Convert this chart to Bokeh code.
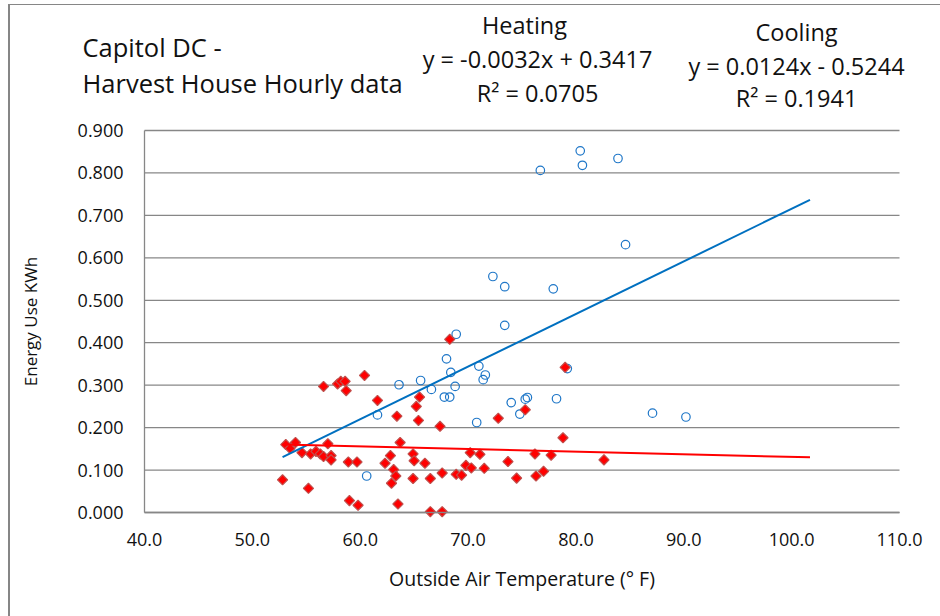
import numpy as np
from bokeh.plotting import figure
from bokeh.models import Range1d, FixedTicker, NumeralTickFormatter, Label
from bokeh.embed import file_html
from bokeh.resources import INLINE

# ---- data ----
heat_temp = [52.8, 53.1, 53.5, 54.0, 54.6, 55.2, 55.4, 55.9, 56.3, 56.6, 56.6, 57.0, 57.3, 57.3,
             57.9, 58.2, 58.6, 58.7, 58.9, 59.0, 59.7, 59.8, 60.4, 61.6, 62.3, 62.8, 62.9, 63.1,
             63.3, 63.4, 63.5, 63.7, 64.9, 64.9, 65.0, 65.2, 65.4, 65.5, 66.0, 66.5, 66.5, 67.4,
             67.6, 67.6, 68.3, 68.9, 69.4, 69.8, 70.2, 70.3, 71.1, 71.5, 72.8, 73.7, 74.5, 75.3,
             76.2, 76.3, 77.0, 77.7, 78.8, 79.0, 82.6]
heat_kwh = [0.077, 0.160, 0.151, 0.165, 0.141, 0.057, 0.138, 0.144, 0.138, 0.297, 0.132, 0.162, 0.134, 0.124,
            0.303, 0.309, 0.309, 0.287, 0.119, 0.028, 0.119, 0.017, 0.323, 0.264, 0.116, 0.134, 0.069, 0.101,
            0.086, 0.227, 0.020, 0.165, 0.138, 0.080, 0.122, 0.250, 0.217, 0.272, 0.116, 0.080, 0.002, 0.203,
            0.093, 0.002, 0.408, 0.090, 0.088, 0.111, 0.141, 0.105, 0.137, 0.104, 0.222, 0.120, 0.081, 0.242,
            0.138, 0.086, 0.097, 0.135, 0.176, 0.342, 0.124]

cool_temp = [60.6, 61.6, 63.6, 65.6, 66.6, 67.8, 68.3, 68.0, 68.4, 68.8, 68.9, 70.8, 71.0, 71.4, 71.6, 72.3,
             73.4, 73.4, 74.0, 74.8, 75.3, 75.5, 76.7, 77.9, 78.2, 79.2, 80.4, 80.6, 83.9, 84.6, 87.1, 90.2]
cool_kwh = [0.086, 0.230, 0.301, 0.311, 0.290, 0.272, 0.272, 0.362, 0.330, 0.297, 0.420, 0.212, 0.345, 0.313,
            0.324, 0.556, 0.441, 0.532, 0.259, 0.232, 0.267, 0.271, 0.806, 0.527, 0.268, 0.339, 0.852, 0.818,
            0.834, 0.631, 0.234, 0.225]

# trend lines as drawn in the picture (end points)
trend_temp = [52.8, 101.7]
heat_trend = [0.160, 0.130]
cool_slope, cool_intercept = 0.0124, -0.5244
cool_trend = [cool_slope * t + cool_intercept for t in trend_temp]

x_ticks = [40, 50, 60, 70, 80, 90, 100, 110]
y_ticks = [0.0, 0.1, 0.2, 0.3, 0.4, 0.5, 0.6, 0.7, 0.8, 0.9]

title_lines = ["Capitol DC -", "Harvest House Hourly data"]
heating_lines = ["Heating", "y = -0.0032x + 0.3417", "R² = 0.0705"]
cooling_lines = ["Cooling", "y = 0.0124x - 0.5244", "R² = 0.1941"]

FONT = "Open Sans"
GRID = "#878787"
TXT = "#111111"

# ---- layout geometry (pixels of the canvas) ----
CW, CH = 930, 611                 # canvas size
PL, PR, PT, PB = 134, 889, 125, 507   # plot-area edges inside the canvas
x_lo, x_hi = x_ticks[0], x_ticks[-1]
y_lo, y_hi = y_ticks[0], y_ticks[-1]
xs = (x_hi - x_lo) / (PR - PL)
ys = (y_hi - y_lo) / (PB - PT)
x_range = Range1d(x_lo - PL * xs, x_hi + (CW - PR) * xs)
y_range = Range1d(y_lo - (CH - PB) * ys, y_hi + PT * ys)

p = figure(frame_width=CW, frame_height=CH, output_backend="svg", toolbar_location=None,
           x_range=x_range, y_range=y_range,
           min_border_left=0, min_border_right=0, min_border_top=0, min_border_bottom=0)
p.styles = {"border-left": "2px solid #868686", "border-top": "1px solid #868686",
            "margin-left": "8px", "margin-top": "4px"}
p.outline_line_color = None
p.background_fill_color = "white"
p.border_fill_color = "white"
p.grid.visible = False

# horizontal gridlines across the plot area only
p.segment(x0=[x_lo] * len(y_ticks), x1=[x_hi] * len(y_ticks), y0=y_ticks, y1=y_ticks,
          line_color=GRID, line_width=1.3)

p.xaxis.fixed_location = y_lo
p.yaxis.fixed_location = x_lo
p.xaxis.bounds = (x_lo, x_hi)
p.yaxis.bounds = (y_lo, y_hi)
p.xaxis.ticker = FixedTicker(ticks=x_ticks)
p.yaxis.ticker = FixedTicker(ticks=y_ticks)
p.xaxis.formatter = NumeralTickFormatter(format="0.0")
p.yaxis.formatter = NumeralTickFormatter(format="0.000")
for ax in (p.xaxis[0], p.yaxis[0]):
    ax.major_tick_line_color = None
    ax.minor_tick_line_color = None
    ax.axis_line_color = GRID
    ax.axis_line_width = 1.3
    ax.major_label_text_font = FONT
    ax.major_label_text_font_size = "18px"
    ax.major_label_text_color = TXT
    ax.axis_label_text_font = FONT
    ax.axis_label_text_font_style = "normal"
    ax.axis_label_text_color = TXT
p.xaxis.axis_label = "Outside Air Temperature (° F)"
p.yaxis.axis_label = "Energy Use KWh"
p.xaxis.axis_label_text_font_size = "19.5px"
p.yaxis.axis_label_text_font_size = "17px"
p.xaxis.major_label_standoff = 14
p.yaxis.major_label_standoff = 15
p.xaxis.axis_label_standoff = 16
p.yaxis.axis_label_standoff = 33

p.scatter(cool_temp, cool_kwh, marker="circle", size=8.5, fill_color=None,
          line_color="#1F77C8", line_width=1.2)
p.scatter(heat_temp, heat_kwh, marker="square", angle=np.pi / 4, size=7.2,
          fill_color="#FF0000", line_color="#C0504D", line_width=1.2)

p.line(trend_temp, cool_trend, line_color="#0070C0", line_width=2)
p.line(trend_temp, heat_trend, line_color="#FF0000", line_width=2)

# texts: x from canvas left, y measured from canvas top (converted to frame-bottom units)
def lab(x, y_top, t, size, align="center"):
    p.add_layout(Label(x=x, y=CH - y_top, x_units="screen", y_units="screen", text=t,
                       text_font=FONT, text_font_size=size,
                       text_align=align, text_baseline="middle", text_color=TXT))

for t, yy in zip(title_lines, [41, 77]):
    lab(72, yy, t, "25.5px", "left")
for t, xx, yy in zip(heating_lines, [514, 527, 527], [19, 53, 87]):
    lab(xx, yy, t, "23.5px")
for t, yy in zip(cooling_lines, [26, 60, 92]):
    lab(786, yy, t, "23.5px")

open("out.html", "w").write(file_html(p, INLINE))
